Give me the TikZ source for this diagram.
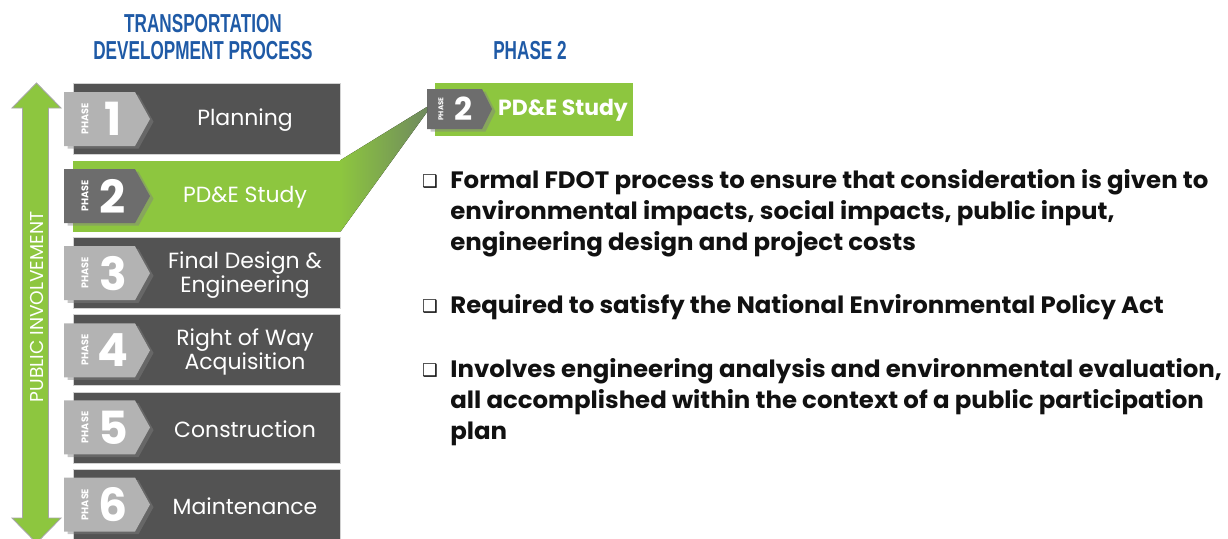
\documentclass[tikz,border=0pt]{standalone}
\usepackage{fontspec}
\setmainfont{Poppins}
\newfontfamily\condfont[FakeStretch=0.66]{Liberation Sans}
\newfontfamily\widefont[FakeStretch=1.03]{Poppins}
\newfontfamily\dingfont{DejaVu Sans}
\usetikzlibrary{shadows}

\definecolor{pdgreen}{HTML}{8DC63F}
\definecolor{pdgreendark}{HTML}{6F8A5E}
\definecolor{boxgray}{HTML}{535353}
\definecolor{taglight}{HTML}{B3B3B3}
\definecolor{tagdark}{HTML}{6D6D6D}
\definecolor{titleblue}{HTML}{1F5AA6}
\definecolor{bodyblack}{HTML}{111111}

\tikzset{
  darkbox/.style={fill=boxgray, draw=gray!35, line width=0.4pt, minimum width=5.34cm, minimum height=1.42cm, inner sep=0pt},
  greenbox/.style={fill=pdgreen, minimum width=5.34cm, minimum height=1.42cm, inner sep=0pt},
  lighttag/.style={fill=taglight},
  darktag/.style={fill=tagdark},
  tagshadow/.style={drop shadow={shadow xshift=2pt, shadow yshift=-1.5pt, opacity=0.45}},
  boxlabel/.style={text=white, font=\fontsize{12.5}{13.6}\selectfont, align=center},
  phaseword/.style={text=white, rotate=90, font=\fontsize{5.5}{6}\selectfont\bfseries, inner sep=0pt},
  phasenum/.style={text=white, font=\fontsize{26}{26}\selectfont\bfseries, inner sep=0pt},
  heading/.style={text=titleblue, font=\condfont\bfseries\fontsize{14.8}{15.3}\selectfont, align=center},
  bullettext/.style={text=bodyblack, font=\widefont\fontsize{13.5}{17.6}\selectfont\bfseries, align=left, anchor=north west, inner sep=0pt},
  bulletmark/.style={text=bodyblack, font=\dingfont\fontsize{10}{10}\selectfont, inner sep=0pt},
}

\begin{document}
\begin{tikzpicture}[x=0.02cm, y=-0.02cm]
    \useasboundingbox (0,0) rectangle (1228,538);%

    % Headings
    \node[heading] (title) at (203,37) {TRANSPORTATION\\DEVELOPMENT PROCESS};%
    \node[heading] (phasetitle) at (530,51) {PHASE 2};%

    % Drawing public involvement arrow (both ways)
    \draw[fill=pdgreen, draw=gray!70, line width=0.5pt] (36.5,83) -- (61,108) -- (48.5,108) -- (48.5,518) -- (61,518) -- (36.5,543) -- (12,518) -- (22.5,518) -- (22.5,108) -- (12,108) -- cycle;%
    \node[text=white, rotate=90, font=\fontsize{10.6}{11}\selectfont] (public) at (37,307) {PUBLIC INVOLVEMENT};%

    % Drawing the six phase boxes with their tags
    \foreach \n/\bx/\tg/\txt in {1/darkbox/lighttag/Planning,
                                 2/greenbox/darktag/{PD\&E Study},
                                 3/darkbox/lighttag/{Final Design \&\\Engineering},
                                 4/darkbox/lighttag/{Right of Way\\Acquisition},
                                 5/darkbox/lighttag/Construction,
                                 6/darkbox/lighttag/Maintenance}
    {
        \pgfmathsetmacro{\y}{119+77.1*(\n-1)}
        \node[\bx] (box\n) at (206.5,\y) {};%
        \fill[\tg, tagshadow] (64,\y-27) -- (135,\y-27) -- (150,\y) -- (135,\y+27) -- (64,\y+27) -- cycle;%
        \node[phaseword] (phase\n) at (85,\y) {PHASE};%
        \node[phasenum] (num\n) at (113,\y) {\n};%
        \node[boxlabel] (label\n) at (245,\y+1.5) {\txt};%
    }

    % Marking phase 2 on the right
    \node[greenbox, minimum width=3.96cm, minimum height=1.06cm] (minibox) at (534,109.5) {};%
    \fill[darktag, tagshadow] (427,89) -- (482,89) -- (492,109) -- (482,129) -- (427,129) -- cycle;%
    \coordinate (minitip) at (427,109.5);%
    \node[phaseword, font=\fontsize{4}{4}\selectfont\bfseries] (miniphase) at (441,109) {PHASE};%
    \node[phasenum, font=\fontsize{18}{18}\selectfont\bfseries] (mininum) at (464,109) {2};%
    \node[boxlabel, font=\fontsize{12.5}{13}\selectfont\bfseries] (minilabel) at (563,110) {PD\&E Study};%

    % Drawing the callout from box 2
    \fill[left color=pdgreen, right color=pdgreendark] (box2.north east) -- ([yshift=1.5pt]minitip) -- ([yshift=-1.5pt]minitip) -- (box2.south east) -- cycle;%

    % Bullet items
    \node[bulletmark] (mark1) at (430,182) {❑};%
    \node[bullettext] (item1) at (450,169) {Formal FDOT process to ensure that consideration is given to\\environmental impacts, social impacts, public input,\\engineering design and project costs};%
    \node[bulletmark] (mark2) at (430,307) {❑};%
    \node[bullettext] (item2) at (450,294) {Required to satisfy the National Environmental Policy Act};%
    \node[bulletmark] (mark3) at (430,371) {❑};%
    \node[bullettext] (item3) at (450,358) {Involves engineering analysis and environmental evaluation,\\all accomplished within the context of a public participation\\plan};%
\end{tikzpicture}
\end{document}
